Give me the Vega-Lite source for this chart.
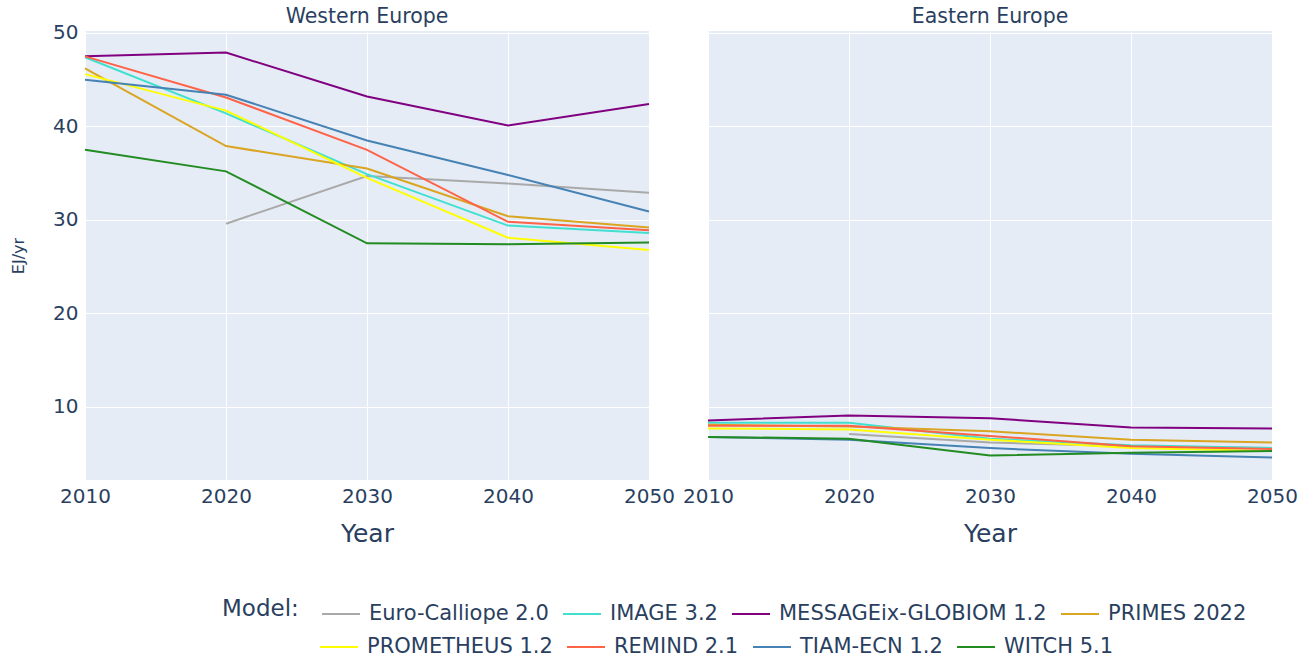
{
  "$schema": "https://vega.github.io/schema/vega-lite/v6.json",
  "padding": {"left": 10, "top": 6, "right": 5, "bottom": 5},
  "bounds": "flush",
  "background": "white",
  "data": {"values": [
    {"model": "Euro-Calliope 2.0", "region": "Western Europe", "year": 2020, "value": 29.6},
    {"model": "Euro-Calliope 2.0", "region": "Western Europe", "year": 2030, "value": 34.7},
    {"model": "Euro-Calliope 2.0", "region": "Western Europe", "year": 2040, "value": 33.9},
    {"model": "Euro-Calliope 2.0", "region": "Western Europe", "year": 2050, "value": 32.9},
    {"model": "Euro-Calliope 2.0", "region": "Eastern Europe", "year": 2020, "value": 7.1},
    {"model": "Euro-Calliope 2.0", "region": "Eastern Europe", "year": 2030, "value": 6.2},
    {"model": "Euro-Calliope 2.0", "region": "Eastern Europe", "year": 2040, "value": 5.8},
    {"model": "Euro-Calliope 2.0", "region": "Eastern Europe", "year": 2050, "value": 5.6},

    {"model": "IMAGE 3.2", "region": "Western Europe", "year": 2010, "value": 47.4},
    {"model": "IMAGE 3.2", "region": "Western Europe", "year": 2020, "value": 41.4},
    {"model": "IMAGE 3.2", "region": "Western Europe", "year": 2030, "value": 34.9},
    {"model": "IMAGE 3.2", "region": "Western Europe", "year": 2040, "value": 29.4},
    {"model": "IMAGE 3.2", "region": "Western Europe", "year": 2050, "value": 28.6},
    {"model": "IMAGE 3.2", "region": "Eastern Europe", "year": 2010, "value": 8.3},
    {"model": "IMAGE 3.2", "region": "Eastern Europe", "year": 2020, "value": 8.3},
    {"model": "IMAGE 3.2", "region": "Eastern Europe", "year": 2030, "value": 6.6},
    {"model": "IMAGE 3.2", "region": "Eastern Europe", "year": 2040, "value": 5.9},
    {"model": "IMAGE 3.2", "region": "Eastern Europe", "year": 2050, "value": 5.6},

    {"model": "MESSAGEix-GLOBIOM 1.2", "region": "Western Europe", "year": 2010, "value": 47.5},
    {"model": "MESSAGEix-GLOBIOM 1.2", "region": "Western Europe", "year": 2020, "value": 47.9},
    {"model": "MESSAGEix-GLOBIOM 1.2", "region": "Western Europe", "year": 2030, "value": 43.2},
    {"model": "MESSAGEix-GLOBIOM 1.2", "region": "Western Europe", "year": 2040, "value": 40.1},
    {"model": "MESSAGEix-GLOBIOM 1.2", "region": "Western Europe", "year": 2050, "value": 42.4},
    {"model": "MESSAGEix-GLOBIOM 1.2", "region": "Eastern Europe", "year": 2010, "value": 8.55},
    {"model": "MESSAGEix-GLOBIOM 1.2", "region": "Eastern Europe", "year": 2020, "value": 9.1},
    {"model": "MESSAGEix-GLOBIOM 1.2", "region": "Eastern Europe", "year": 2030, "value": 8.8},
    {"model": "MESSAGEix-GLOBIOM 1.2", "region": "Eastern Europe", "year": 2040, "value": 7.8},
    {"model": "MESSAGEix-GLOBIOM 1.2", "region": "Eastern Europe", "year": 2050, "value": 7.7},

    {"model": "PRIMES 2022", "region": "Western Europe", "year": 2010, "value": 46.2},
    {"model": "PRIMES 2022", "region": "Western Europe", "year": 2020, "value": 37.9},
    {"model": "PRIMES 2022", "region": "Western Europe", "year": 2030, "value": 35.5},
    {"model": "PRIMES 2022", "region": "Western Europe", "year": 2040, "value": 30.4},
    {"model": "PRIMES 2022", "region": "Western Europe", "year": 2050, "value": 29.2},
    {"model": "PRIMES 2022", "region": "Eastern Europe", "year": 2010, "value": 8.1},
    {"model": "PRIMES 2022", "region": "Eastern Europe", "year": 2020, "value": 7.9},
    {"model": "PRIMES 2022", "region": "Eastern Europe", "year": 2030, "value": 7.4},
    {"model": "PRIMES 2022", "region": "Eastern Europe", "year": 2040, "value": 6.5},
    {"model": "PRIMES 2022", "region": "Eastern Europe", "year": 2050, "value": 6.2},

    {"model": "PROMETHEUS 1.2", "region": "Western Europe", "year": 2010, "value": 45.6},
    {"model": "PROMETHEUS 1.2", "region": "Western Europe", "year": 2020, "value": 41.7},
    {"model": "PROMETHEUS 1.2", "region": "Western Europe", "year": 2030, "value": 34.5},
    {"model": "PROMETHEUS 1.2", "region": "Western Europe", "year": 2040, "value": 28.1},
    {"model": "PROMETHEUS 1.2", "region": "Western Europe", "year": 2050, "value": 26.8},
    {"model": "PROMETHEUS 1.2", "region": "Eastern Europe", "year": 2010, "value": 7.7},
    {"model": "PROMETHEUS 1.2", "region": "Eastern Europe", "year": 2020, "value": 7.6},
    {"model": "PROMETHEUS 1.2", "region": "Eastern Europe", "year": 2030, "value": 6.5},
    {"model": "PROMETHEUS 1.2", "region": "Eastern Europe", "year": 2040, "value": 5.6},
    {"model": "PROMETHEUS 1.2", "region": "Eastern Europe", "year": 2050, "value": 5.3},

    {"model": "REMIND 2.1", "region": "Western Europe", "year": 2010, "value": 47.5},
    {"model": "REMIND 2.1", "region": "Western Europe", "year": 2020, "value": 43.1},
    {"model": "REMIND 2.1", "region": "Western Europe", "year": 2030, "value": 37.5},
    {"model": "REMIND 2.1", "region": "Western Europe", "year": 2040, "value": 29.8},
    {"model": "REMIND 2.1", "region": "Western Europe", "year": 2050, "value": 28.9},
    {"model": "REMIND 2.1", "region": "Eastern Europe", "year": 2010, "value": 8.0},
    {"model": "REMIND 2.1", "region": "Eastern Europe", "year": 2020, "value": 8.0},
    {"model": "REMIND 2.1", "region": "Eastern Europe", "year": 2030, "value": 6.9},
    {"model": "REMIND 2.1", "region": "Eastern Europe", "year": 2040, "value": 5.8},
    {"model": "REMIND 2.1", "region": "Eastern Europe", "year": 2050, "value": 5.5},

    {"model": "TIAM-ECN 1.2", "region": "Western Europe", "year": 2010, "value": 45.0},
    {"model": "TIAM-ECN 1.2", "region": "Western Europe", "year": 2020, "value": 43.4},
    {"model": "TIAM-ECN 1.2", "region": "Western Europe", "year": 2030, "value": 38.5},
    {"model": "TIAM-ECN 1.2", "region": "Western Europe", "year": 2040, "value": 34.8},
    {"model": "TIAM-ECN 1.2", "region": "Western Europe", "year": 2050, "value": 30.9},
    {"model": "TIAM-ECN 1.2", "region": "Eastern Europe", "year": 2010, "value": 6.8},
    {"model": "TIAM-ECN 1.2", "region": "Eastern Europe", "year": 2020, "value": 6.5},
    {"model": "TIAM-ECN 1.2", "region": "Eastern Europe", "year": 2030, "value": 5.6},
    {"model": "TIAM-ECN 1.2", "region": "Eastern Europe", "year": 2040, "value": 5.0},
    {"model": "TIAM-ECN 1.2", "region": "Eastern Europe", "year": 2050, "value": 4.6},

    {"model": "WITCH 5.1", "region": "Western Europe", "year": 2010, "value": 37.5},
    {"model": "WITCH 5.1", "region": "Western Europe", "year": 2020, "value": 35.2},
    {"model": "WITCH 5.1", "region": "Western Europe", "year": 2030, "value": 27.5},
    {"model": "WITCH 5.1", "region": "Western Europe", "year": 2040, "value": 27.4},
    {"model": "WITCH 5.1", "region": "Western Europe", "year": 2050, "value": 27.6},
    {"model": "WITCH 5.1", "region": "Eastern Europe", "year": 2010, "value": 6.8},
    {"model": "WITCH 5.1", "region": "Eastern Europe", "year": 2020, "value": 6.6},
    {"model": "WITCH 5.1", "region": "Eastern Europe", "year": 2030, "value": 4.8},
    {"model": "WITCH 5.1", "region": "Eastern Europe", "year": 2040, "value": 5.1},
    {"model": "WITCH 5.1", "region": "Eastern Europe", "year": 2050, "value": 5.3}
  ]},
  "facet": {
    "column": {
      "field": "region",
      "type": "nominal",
      "sort": ["Western Europe", "Eastern Europe"],
      "header": {"title": null, "labelFontSize": 20.5, "labelColor": "#2a3f5f", "labelFont": "DejaVu Sans", "labelPadding": 4}
    }
  },
  "spacing": 59,
  "spec": {
    "width": 564,
    "height": 449,
    "encoding": {
      "x": {
        "field": "year", "type": "quantitative",
        "scale": {"domain": [2010, 2050], "nice": false, "zero": false},
        "axis": {"title": "Year", "values": [2010, 2020, 2030, 2040, 2050], "format": "d", "labelFlush": false, "labelFontSize": 20, "titleFontSize": 25, "labelPadding": 6, "titlePadding": 15, "titleFontWeight": "normal"}
      },
      "y": {
        "field": "value", "type": "quantitative",
        "scale": {"domain": [2.19, 50.21], "nice": false, "zero": false},
        "axis": {"title": "EJ/yr", "values": [10, 20, 30, 40, 50], "labelFontSize": 20, "titleFontSize": 16, "labelPadding": 7, "titlePadding": 26, "titleFontWeight": "normal"}
      }
    },
    "layer": [
      {
        "transform": [{"filter": {"field": "model", "oneOf": ["Euro-Calliope 2.0", "IMAGE 3.2", "MESSAGEix-GLOBIOM 1.2", "PRIMES 2022"]}}],
        "mark": {"type": "line", "strokeWidth": 2},
        "encoding": {
          "color": {
            "field": "model", "type": "nominal",
            "scale": {
              "domain": ["Euro-Calliope 2.0", "IMAGE 3.2", "MESSAGEix-GLOBIOM 1.2", "PRIMES 2022"],
              "range": ["#A9A9A9", "#40E0D0", "#800080", "#DAA520"]
            },
            "legend": {
              "title": "Model:",
              "orient": "none",
              "legendX": 137,
              "legendY": 563,
              "direction": "horizontal",
              "titleOrient": "left",
              "titleAnchor": "middle",
              "titleBaseline": "middle",
              "titlePadding": 22
            }
          }
        }
      },
      {
        "transform": [{"filter": {"field": "model", "oneOf": ["PROMETHEUS 1.2", "REMIND 2.1", "TIAM-ECN 1.2", "WITCH 5.1"]}}],
        "mark": {"type": "line", "strokeWidth": 2},
        "encoding": {
          "stroke": {
            "field": "model", "type": "nominal",
            "scale": {
              "domain": ["PROMETHEUS 1.2", "REMIND 2.1", "TIAM-ECN 1.2", "WITCH 5.1"],
              "range": ["#FFFF00", "#FF6347", "#4682B4", "#228B22"]
            },
            "legend": {
              "title": null,
              "orient": "none",
              "legendX": 234,
              "legendY": 596,
              "direction": "horizontal"
            }
          }
        }
      }
    ]
  },
  "config": {
    "font": "DejaVu Sans",
    "view": {"fill": "#E5ECF6", "stroke": null},
    "axis": {
      "grid": true, "gridColor": "#FFFFFF", "gridWidth": 1, "gridOpacity": 1,
      "domain": false, "ticks": false, "tickSize": 0,
      "labelColor": "#2a3f5f", "titleColor": "#2a3f5f",
      "labelFont": "DejaVu Sans", "titleFont": "DejaVu Sans"
    },
    "legend": {
      "labelFont": "DejaVu Sans", "titleFont": "DejaVu Sans",
      "titleFontSize": 23,
      "titleFontWeight": "normal",
      "titleColor": "#2a3f5f",
      "labelFontSize": 21,
      "labelColor": "#2a3f5f",
      "labelOffset": 8,
      "symbolType": "stroke",
      "symbolSize": 1444,
      "symbolStrokeWidth": 2,
      "columnPadding": 10,
      "labelLimit": 400
    }
  }
}
